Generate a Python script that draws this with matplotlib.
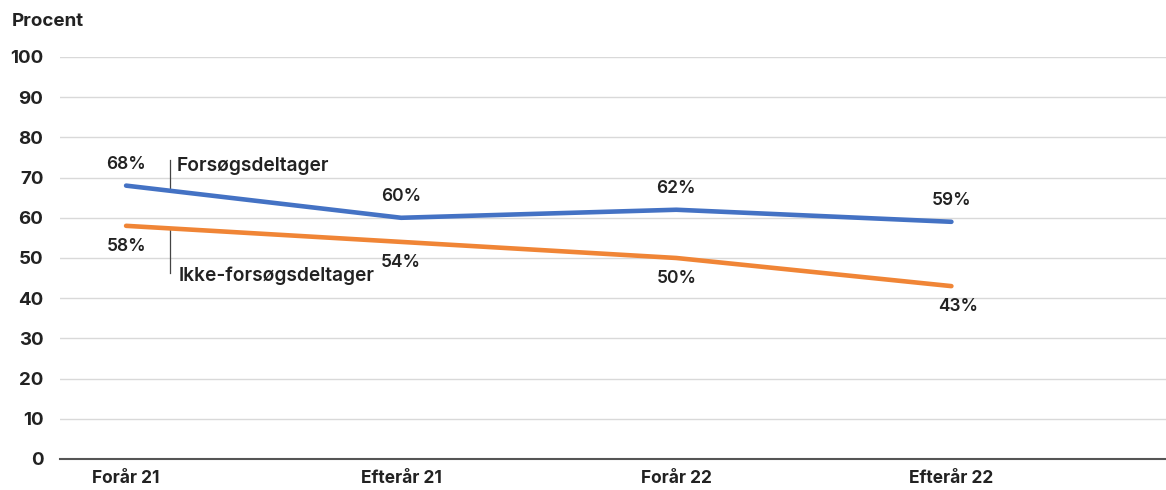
import matplotlib
matplotlib.use('Agg')
import matplotlib.pyplot as plt

plt.rcParams['font.family'] = ['Inter', 'DejaVu Sans']

categories = ['Forår 21', 'Efterår 21', 'Forår 22', 'Efterår 22']
forsoeg = [68, 60, 62, 59]
ikke_forsoeg = [58, 54, 50, 43]
yticks = [0, 10, 20, 30, 40, 50, 60, 70, 80, 90, 100]

blue = '#4472C4'
orange = '#F08536'
txt = '#222222'

fig = plt.figure(figsize=(11.66, 4.9), dpi=100)
ax = fig.add_axes([0.0515, 0.0633, 0.9485, 0.8204])

x = list(range(len(categories)))
ax.plot(x, forsoeg, color=blue, lw=3.3, solid_capstyle='round', zorder=3)
ax.plot(x, ikke_forsoeg, color=orange, lw=3.3, solid_capstyle='round', zorder=3)

# data labels, above for blue and below for orange
for i, v in enumerate(forsoeg):
    ax.annotate(f'{v}%', (i, v), xytext=(0, 15), textcoords='offset points',
                ha='center', va='center', fontsize=12.5, fontweight='semibold', color=txt)
for i, v in enumerate(ikke_forsoeg):
    dx = 5 if i == 3 else 0
    ax.annotate(f'{v}%', (i, v), xytext=(dx, -15), textcoords='offset points',
                ha='center', va='center', fontsize=12.5, fontweight='semibold', color=txt)

# series names with small leader lines
ax.plot([0.16, 0.16], [67.4, 74.4], color='#444444', lw=0.9)
ax.text(0.185, 72.9, 'Forsøgsdeltager', ha='left', va='center',
        fontsize=13.8, fontweight='semibold', color=txt)
ax.plot([0.16, 0.16], [46.3, 57.0], color='#444444', lw=0.9)
ax.text(0.19, 45.5, 'Ikke-forsøgsdeltager', ha='left', va='center',
        fontsize=13.8, fontweight='semibold', color=txt)

ax.set_xlim(-0.24, 3.78)
ax.set_ylim(0, 100)
ax.set_yticks(yticks)
ax.set_xticks(x)
ax.set_xticklabels(categories)
ax.grid(axis='y', color='#d9d9d9', lw=1)
ax.set_axisbelow(True)
for s in ['top', 'right', 'left']:
    ax.spines[s].set_visible(False)
ax.spines['bottom'].set_color('#555555')
ax.spines['bottom'].set_linewidth(1.5)
ax.tick_params(length=0, colors=txt)
ax.tick_params(axis='y', pad=12, labelsize=13.5)
ax.tick_params(axis='x', pad=8, labelsize=12.5)
for lab in ax.get_xticklabels() + ax.get_yticklabels():
    lab.set_fontweight('bold')

fig.text(12 / 1166, 1 - 22 / 490, 'Procent', ha='left', va='center',
         fontsize=13.5, fontweight='bold', color=txt)

fig.savefig('out.png', dpi=100)
